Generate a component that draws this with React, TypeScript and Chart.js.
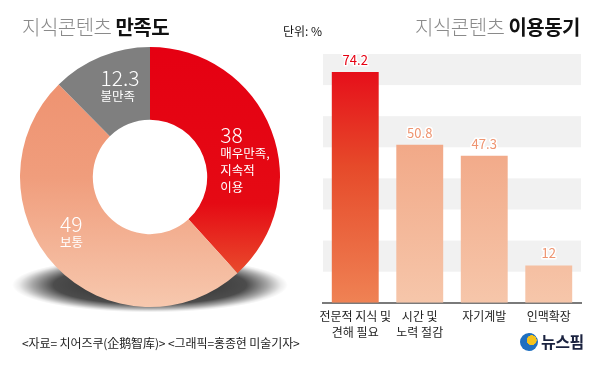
import React, { useEffect, useRef } from 'react';
import { Chart, registerables } from 'chart.js';

Chart.register(...registerables);

const FONT = '"Noto Sans CJK KR", "Noto Sans", sans-serif';

// ---- Data: satisfaction (doughnut) ----
const satisfactionLegend = ['매우만족, 지속적 이용', '보통', '불만족'];
const satisfactionValues = [38, 49, 12.3];
const satisfactionLines = [['매우만족,', '지속적', '이용'], ['보통'], ['불만족']];

// ---- Data: motives (bars) ----
const motiveCategories = [['전문적 지식 및', '견해 필요'], ['시간 및', '노력 절감'], ['자기계발'], ['인맥확장']];
const motiveValues = [74.2, 50.8, 47.3, 12];
const yMin = 0;
const yMax = 80;
const yStep = 10;

export default function App() {
  const donutRef = useRef<HTMLCanvasElement | null>(null);
  const barRef = useRef<HTMLCanvasElement | null>(null);

  useEffect(() => {
    const donutOffsets = [
      { dx: -17, dy: -8 },
      { dx: -22, dy: -17 },
      { dx: -14, dy: -12 },
    ];

    const shadowPlugin = {
      id: 'ringShadow',
      beforeDatasetsDraw(chart: any) {
        const arc: any = chart.getDatasetMeta(0).data[0];
        if (!arc) return;
        const ctx = chart.ctx;
        const r = arc.outerRadius;
        ctx.save();
        ctx.translate(arc.x, arc.y + r * 0.83);
        ctx.scale(1, 0.2);
        const g = ctx.createRadialGradient(0, 0, 0, 0, 0, r * 1.06);
        g.addColorStop(0, 'rgba(0,0,0,0.85)');
        g.addColorStop(0.7, 'rgba(0,0,0,0.7)');
        g.addColorStop(0.85, 'rgba(0,0,0,0.35)');
        g.addColorStop(0.95, 'rgba(0,0,0,0.08)');
        g.addColorStop(1, 'rgba(0,0,0,0)');
        ctx.fillStyle = g;
        ctx.beginPath();
        ctx.arc(0, 0, r * 1.06, 0, Math.PI * 2);
        ctx.fill();
        ctx.restore();
        ctx.save();
        ctx.beginPath();
        ctx.arc(arc.x, arc.y, arc.innerRadius + 1, 0, Math.PI * 2);
        ctx.fillStyle = '#ffffff';
        ctx.fill();
        ctx.restore();
      },
    };

    const donutLabelPlugin = {
      id: 'donutLabels',
      afterDatasetsDraw(chart: any) {
        const ctx = chart.ctx;
        const meta = chart.getDatasetMeta(0);
        ctx.save();
        ctx.fillStyle = '#ffffff';
        ctx.textAlign = 'left';
        ctx.textBaseline = 'middle';
        meta.data.forEach((arc: any, i: number) => {
          const p = arc.getCenterPoint();
          const off = donutOffsets[i];
          const x = p.x + off.dx;
          let y = p.y + off.dy;
          ctx.font = `300 21px ${FONT}`;
          ctx.fillText(String(satisfactionValues[i]), x, y);
          ctx.font = `12.5px ${FONT}`;
          y += 18;
          satisfactionLines[i].forEach((line) => {
            ctx.fillText(line, x, y);
            y += 17;
          });
        });
        ctx.restore();
      },
    };

    const donutColor = (c: any) => {
      const chart = c.chart;
      const area = chart.chartArea;
      const i = c.dataIndex;
      const flat = ['#E60012', '#F09A78', '#808080'];
      if (!area) return flat[i];
      const g = chart.ctx.createLinearGradient(0, area.top, 0, area.bottom);
      if (i === 0) {
        g.addColorStop(0, '#E50012');
        g.addColorStop(0.6, '#E50A14');
        g.addColorStop(0.9, '#E9522F');
        g.addColorStop(1, '#EA5A35');
      } else if (i === 1) {
        g.addColorStop(0, '#EE8F6D');
        g.addColorStop(0.5, '#F09D7C');
        g.addColorStop(1, '#F7C8AE');
      } else {
        return '#7F7F7F';
      }
      return g;
    };

    const donut = new Chart(donutRef.current as HTMLCanvasElement, {
      type: 'doughnut',
      data: {
        labels: satisfactionLegend,
        datasets: [
          {
            data: satisfactionValues,
            backgroundColor: donutColor as any,
            borderWidth: 0,
          },
        ],
      },
      options: {
        animation: false,
        responsive: false,
        cutout: '44%',
        layout: { padding: 20 },
        plugins: { legend: { display: false }, tooltip: { enabled: false } },
      },
      plugins: [shadowPlugin, donutLabelPlugin],
    });

    const bandPlugin = {
      id: 'bands',
      beforeDatasetsDraw(chart: any) {
        const { ctx, chartArea } = chart;
        const y = chart.scales.y;
        ctx.save();
        ctx.fillStyle = '#F1F1F1';
        for (let v = yMin + yStep; v < yMax; v += 2 * yStep) {
          const top = y.getPixelForValue(v + yStep);
          const bottom = y.getPixelForValue(v);
          ctx.fillRect(chartArea.left, top, chartArea.right - chartArea.left, bottom - top);
        }
        ctx.restore();
      },
    };

    const barLabelPlugin = {
      id: 'barLabels',
      afterDatasetsDraw(chart: any) {
        const ctx = chart.ctx;
        const meta = chart.getDatasetMeta(0);
        ctx.save();
        ctx.font = `13px ${FONT}`;
        ctx.textAlign = 'center';
        ctx.textBaseline = 'middle';
        ctx.lineJoin = 'round';
        meta.data.forEach((bar: any, i: number) => {
          const text = String(motiveValues[i]);
          const x = bar.x;
          const y = bar.y - 12;
          ctx.lineWidth = 3;
          ctx.strokeStyle = '#ffffff';
          ctx.strokeText(text, x, y);
          ctx.fillStyle = i === 0 ? '#E60012' : '#EE9470';
          ctx.fillText(text, x, y);
        });
        ctx.restore();
      },
    };

    const barColor = (c: any) => {
      const chart = c.chart;
      const area = chart.chartArea;
      const i = c.dataIndex;
      if (!area) return i === 0 ? '#E60012' : '#F09A78';
      const el = chart.getDatasetMeta(0).data[i];
      const top = el && isFinite(el.y) ? el.y : area.top;
      const bottom = area.bottom;
      const g = chart.ctx.createLinearGradient(0, top, 0, bottom);
      if (i === 0) {
        g.addColorStop(0, '#E60417');
        g.addColorStop(0.45, '#E64A2A');
        g.addColorStop(1, '#EF8254');
      } else {
        g.addColorStop(0, '#EF9874');
        g.addColorStop(1, '#F6C6AA');
      }
      return g;
    };

    const bar = new Chart(barRef.current as HTMLCanvasElement, {
      type: 'bar',
      data: {
        labels: motiveCategories as any,
        datasets: [
          {
            data: motiveValues,
            backgroundColor: barColor as any,
            borderWidth: 0,
            categoryPercentage: 1,
            barPercentage: 0.727,
          },
        ],
      },
      options: {
        animation: false,
        responsive: false,
        layout: { padding: { left: 23, right: 19, top: 54, bottom: 22 } },
        scales: {
          x: {
            z: 1,
            grid: { display: false, drawTicks: false },
            border: { display: true, color: '#7A7A7A', width: 2 },
            ticks: {
              color: '#222222',
              font: { family: FONT, size: 12, lineHeight: 1.3 },
              padding: 6,
              maxRotation: 0,
              autoSkip: false,
            },
          },
          y: {
            display: false,
            min: yMin,
            max: yMax,
            ticks: { stepSize: yStep },
          },
        },
        plugins: { legend: { display: false }, tooltip: { enabled: false } },
      },
      plugins: [bandPlugin, barLabelPlugin],
    });

    return () => {
      donut.destroy();
      bar.destroy();
    };
  }, []);

  const abs = (s: any) => ({ position: 'absolute', ...s } as React.CSSProperties);

  return (
    <div style={abs({ left: 0, top: 0, width: 600, height: 368, background: '#fff', overflow: 'hidden', fontFamily: FONT })}>
      <canvas ref={donutRef} width={300} height={300} style={abs({ left: 0, top: 27, width: 300, height: 300 })} />
      <canvas ref={barRef} width={300} height={368} style={abs({ left: 300, top: 0, width: 300, height: 368 })} />

      <div style={abs({ left: 22, top: 17, fontSize: 20, lineHeight: '20px', whiteSpace: 'nowrap', letterSpacing: -0.5 })}>
        <span style={{ color: '#8A8A8A', fontWeight: 300 }}>지식콘텐츠 </span>
        <span style={{ color: '#111', fontWeight: 700 }}>만족도</span>
      </div>
      <div style={abs({ left: 283, top: 25, fontSize: 12, lineHeight: '12px', color: '#111', whiteSpace: 'nowrap' })}>단위: %</div>
      <div style={abs({ left: 415, top: 17, fontSize: 20, lineHeight: '20px', whiteSpace: 'nowrap', letterSpacing: -0.5 })}>
        <span style={{ color: '#8A8A8A', fontWeight: 300 }}>지식콘텐츠 </span>
        <span style={{ color: '#111', fontWeight: 700 }}>이용동기</span>
      </div>
      <div style={abs({ left: 22, top: 337, fontSize: 12, lineHeight: '12px', color: '#222', whiteSpace: 'nowrap', letterSpacing: -0.1 })}>
        &lt;자료= 치어즈쿠(企鹅智库)&gt; &lt;그래픽=홍종현 미술기자&gt;
      </div>
      <div
        style={abs({
          left: 520,
          top: 333,
          width: 18,
          height: 18,
          borderRadius: '50%',
          background: 'radial-gradient(circle at 65% 40%, #F4C21B 0 30%, #1E6FC0 32% 100%)',
        })}
      />
      <div style={abs({ left: 541, top: 332, fontSize: 16, lineHeight: '18px', fontWeight: 700, color: '#1B2340', whiteSpace: 'nowrap', letterSpacing: -0.5 })}>
        뉴스핌
      </div>
    </div>
  );
}
